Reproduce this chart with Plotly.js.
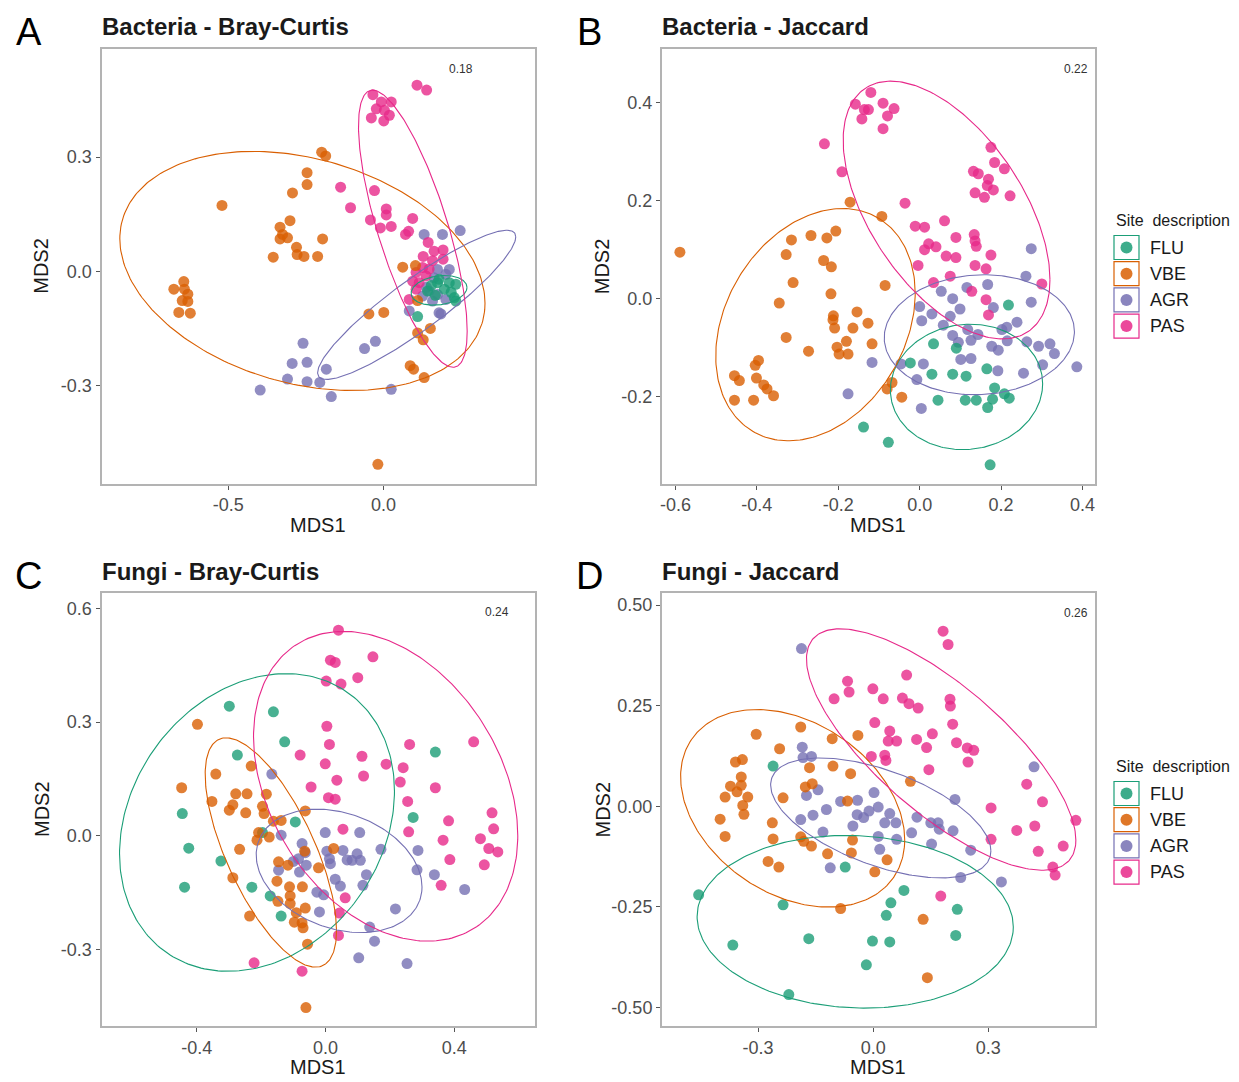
<!DOCTYPE html>
<html><head><meta charset="utf-8">
<script src="https://cdn.plot.ly/plotly-3.0.1.min.js"></script>
<style>body{margin:0;background:#fff}#chart{width:1239px;height:1082px}</style>
</head><body><div id="chart"></div>
<script>
// ---------- DATA ----------
const groups = ['FLU', 'VBE', 'AGR', 'PAS'];
const stress = ['0.18', '0.22', '0.24', '0.26'];
const panelTitles = ['Bacteria - Bray-Curtis', 'Bacteria - Jaccard', 'Fungi - Bray-Curtis', 'Fungi - Jaccard'];
const panelLetters = ['A', 'B', 'C', 'D'];

// Panel A: Bacteria - Bray-Curtis
const A_FLU_x = [0.110,0.174,0.212,0.233,0.142,0.196,0.228,0.233,0.179,0.154,0.218,0.167];
const A_FLU_y = [-0.119,-0.030,-0.030,-0.034,-0.052,-0.047,-0.069,-0.078,-0.021,-0.037,-0.055,-0.063];
const A_VBE_x = [-0.520,-0.246,-0.246,-0.293,-0.301,-0.333,-0.325,-0.333,-0.309,-0.280,-0.278,-0.256,-0.212,-0.355,-0.199,-0.186,-0.196,-0.643,-0.675,-0.630,-0.648,-0.630,-0.659,-0.622,-0.641,0.062,0.103,0.110,-0.047,0.001,0.110,0.128,0.151,0.086,0.097,0.131,-0.018];
const A_VBE_y = [0.173,0.259,0.228,0.206,0.133,0.116,0.097,0.085,0.088,0.063,0.044,0.039,0.039,0.037,0.313,0.303,0.085,-0.027,-0.047,-0.060,-0.077,-0.079,-0.108,-0.110,-0.047,0.011,0.015,-0.077,-0.112,-0.108,-0.162,-0.180,-0.150,-0.248,-0.257,-0.279,-0.507];
const A_AGR_x = [-0.259,-0.294,-0.246,-0.309,-0.246,-0.205,-0.397,-0.184,-0.168,-0.026,-0.061,0.025,0.131,0.190,0.247,0.174,0.201,0.163,0.147,0.174,0.201,0.158,0.179,0.126,0.083,0.185,0.138,0.212];
const A_AGR_y = [-0.189,-0.242,-0.239,-0.283,-0.290,-0.292,-0.312,-0.257,-0.329,-0.184,-0.203,-0.310,0.097,0.097,0.107,0.005,-0.008,-0.017,-0.052,-0.061,-0.074,-0.078,-0.109,-0.065,-0.104,-0.112,-0.042,0.005];
const A_PAS_x = [-0.034,0.108,0.139,-0.023,-0.007,0.025,0.003,0.019,-0.039,0.001,-0.138,-0.106,-0.029,0.009,0.009,-0.042,-0.010,0.025,0.094,0.071,0.081,0.144,0.128,0.163,0.192,0.192,0.158,0.147,0.126,0.105,0.137,0.094,0.115,0.105,0.083];
const A_PAS_y = [0.464,0.489,0.476,0.427,0.445,0.445,0.423,0.410,0.403,0.395,0.221,0.167,0.212,0.164,0.148,0.135,0.114,0.118,0.139,0.097,0.105,0.076,0.039,0.053,0.056,0.032,0.028,0.006,0.010,-0.003,-0.012,-0.026,-0.030,-0.047,-0.074];
// ellipse [centre x, centre y, half-width, half-height, correlation] per group (FLU, VBE, AGR, PAS)
const A_ellipses = [[0.179,-0.050,0.090,0.039,0.2],[-0.261,0.001,0.588,0.314,-0.27],[0.107,-0.088,0.319,0.196,0.91],[0.0946,0.112,0.175,0.364,-0.74]];

// Panel B: Bacteria - Jaccard
const B_FLU_x = [-0.138,0.218,0.034,0.090,-0.023,0.030,0.081,0.114,0.165,0.184,0.208,0.220,0.045,0.112,0.139,0.179,0.167,-0.077,0.173];
const B_FLU_y = [-0.262,-0.013,-0.092,-0.101,-0.131,-0.154,-0.154,-0.158,-0.143,-0.182,-0.194,-0.203,-0.207,-0.207,-0.207,-0.205,-0.222,-0.293,-0.339];
const B_VBE_x = [-0.589,-0.171,-0.093,-0.315,-0.267,-0.228,-0.206,-0.328,-0.236,-0.217,-0.311,-0.218,-0.345,-0.212,-0.213,-0.209,-0.154,-0.127,-0.164,-0.328,-0.273,-0.203,-0.180,-0.198,-0.176,-0.117,-0.396,-0.404,-0.455,-0.443,-0.401,-0.383,-0.375,-0.359,-0.455,-0.408,-0.085,-0.068,-0.080,-0.044];
const B_VBE_y = [0.095,0.197,0.168,0.120,0.129,0.124,0.138,0.090,0.078,0.065,0.033,0.010,-0.009,-0.035,-0.043,-0.060,-0.027,-0.050,-0.060,-0.079,-0.107,-0.099,-0.087,-0.113,-0.113,-0.092,-0.126,-0.136,-0.157,-0.167,-0.162,-0.176,-0.184,-0.198,-0.207,-0.207,0.027,-0.171,-0.184,-0.201];
const B_AGR_x = [-0.117,-0.176,0.274,0.261,0.053,0.116,0.167,0.274,0.081,0.000,0.099,0.030,0.075,0.181,0.005,0.058,0.239,0.118,0.202,0.214,0.081,0.143,0.095,0.126,0.177,0.193,0.215,0.263,0.292,0.320,0.331,0.101,0.126,0.009,0.192,0.255,0.302,0.386,-0.046,-0.007,0.004];
const B_AGR_y = [-0.130,-0.194,0.102,0.046,0.015,0.023,0.029,-0.007,0.000,-0.016,-0.021,-0.031,-0.036,-0.018,-0.045,-0.054,-0.048,-0.063,-0.063,-0.058,-0.075,-0.073,-0.089,-0.085,-0.097,-0.105,-0.086,-0.088,-0.097,-0.092,-0.112,-0.124,-0.122,-0.133,-0.147,-0.152,-0.135,-0.139,-0.133,-0.165,-0.224];
const B_PAS_x = [-0.120,-0.158,-0.136,-0.126,-0.142,-0.090,-0.234,-0.191,-0.090,-0.063,-0.079,0.175,0.184,0.208,0.132,0.144,0.169,0.166,0.181,0.136,0.159,0.222,-0.036,0.061,-0.011,0.012,0.089,0.134,0.136,0.139,0.022,0.012,0.040,0.065,0.089,0.175,-0.004,0.136,0.163,0.075,0.034,0.128,0.300,0.163,0.169];
const B_PAS_y = [0.421,0.397,0.386,0.386,0.367,0.399,0.316,0.259,0.347,0.388,0.373,0.309,0.278,0.265,0.260,0.255,0.244,0.231,0.222,0.216,0.207,0.210,0.195,0.159,0.148,0.146,0.125,0.131,0.118,0.107,0.112,0.100,0.106,0.087,0.084,0.089,0.068,0.068,0.061,0.046,0.033,0.015,0.030,-0.002,-0.033];
const B_ellipses = [[0.115,-0.180,0.187,0.128,0.05],[-0.256,-0.053,0.245,0.237,0.27],[0.1465,-0.0735,0.2336,0.1224,0.05],[0.066,0.181,0.254,0.263,-0.54]];

// Panel C: Fungi - Bray-Curtis
const C_FLU_x = [-0.299,-0.162,-0.127,-0.274,-0.445,-0.094,-0.196,-0.425,-0.325,-0.438,-0.229,-0.172,-0.138,0.341,0.272];
const C_FLU_y = [0.342,0.327,0.248,0.213,0.059,0.037,0.009,-0.032,-0.066,-0.135,-0.135,-0.158,-0.211,0.221,0.049];
const C_VBE_x = [-0.398,-0.231,-0.341,-0.447,-0.279,-0.244,-0.184,-0.353,-0.288,-0.299,-0.248,-0.196,-0.191,-0.063,-0.162,-0.138,-0.208,-0.213,-0.175,-0.267,-0.146,-0.117,-0.065,-0.022,-0.288,-0.151,-0.112,-0.072,-0.110,-0.148,-0.110,-0.063,-0.091,-0.236,-0.097,-0.073,-0.070,-0.056,-0.061,0.025];
const C_VBE_y = [0.294,0.184,0.163,0.127,0.111,0.111,0.110,0.091,0.082,0.068,0.061,0.078,0.059,0.066,0.039,0.041,0.009,-0.011,-0.003,-0.035,-0.068,-0.077,-0.040,-0.084,-0.110,-0.119,-0.134,-0.134,-0.158,-0.172,-0.178,-0.190,-0.202,-0.211,-0.227,-0.229,-0.242,-0.285,-0.452,-0.033];
const C_AGR_x = [-0.167,-0.138,-0.073,-0.063,-0.100,-0.084,-0.146,-0.081,-0.060,-0.027,-0.019,-0.001,0.106,0.004,0.012,0.015,0.054,0.082,0.098,0.108,0.172,0.287,0.284,0.338,0.127,0.116,0.030,0.046,-0.006,0.432,0.217,0.137,0.152,0.103,0.253,0.067];
const C_AGR_y = [0.163,0.002,-0.020,-0.044,-0.067,-0.060,-0.090,-0.095,-0.077,-0.148,-0.200,0.009,0.009,-0.040,-0.060,-0.073,-0.038,-0.064,-0.047,-0.064,-0.035,-0.038,-0.089,-0.102,-0.102,-0.130,-0.114,-0.132,-0.155,-0.141,-0.192,-0.240,-0.277,-0.321,-0.336,-0.063];
const C_PAS_x = [-0.079,-0.045,-0.222,-0.073,0.040,0.015,0.030,0.147,0.002,0.048,0.100,0.004,0.012,-0.001,0.113,0.118,0.188,0.035,0.009,0.030,0.261,0.460,0.241,0.232,0.341,0.255,0.517,0.382,0.522,0.258,0.054,0.365,0.481,0.507,0.535,0.386,0.493,0.359,0.061,0.043,0.040];
const C_PAS_y = [0.213,0.129,-0.334,-0.356,0.542,0.463,0.457,0.472,0.408,0.400,0.417,0.289,0.241,0.190,0.210,0.158,0.189,0.147,0.101,0.097,0.241,0.248,0.180,0.142,0.127,0.091,0.061,0.040,0.019,0.011,0.018,-0.011,-0.007,-0.033,-0.042,-0.062,-0.076,-0.130,-0.163,-0.203,-0.262];
const C_ellipses = [[-0.213,0.0356,0.427,0.392,0.21],[-0.170,-0.0435,0.204,0.302,-0.68],[0.042,-0.092,0.2575,0.1625,-0.26],[0.1866,0.131,0.4104,0.408,-0.32]];

// Panel D: Fungi - Jaccard
const D_FLU_x = [-0.261,-0.455,-0.235,-0.366,-0.168,-0.073,-0.002,-0.018,-0.220,0.080,0.046,0.034,0.219,0.215,0.043];
const D_FLU_y = [0.100,-0.220,-0.245,-0.345,-0.329,-0.151,-0.335,-0.394,-0.468,-0.209,-0.240,-0.271,-0.256,-0.321,-0.337];
const D_VBE_x = [-0.305,-0.189,-0.244,-0.107,-0.040,-0.359,-0.341,-0.166,-0.105,-0.059,-0.344,-0.372,-0.344,-0.355,-0.327,-0.386,-0.177,-0.159,-0.235,-0.067,-0.340,-0.337,-0.399,-0.263,-0.386,-0.261,-0.189,-0.181,-0.161,-0.119,-0.054,-0.057,-0.274,-0.246,0.004,-0.085,0.097,0.036,0.130,0.141];
const D_VBE_y = [0.179,0.197,0.143,0.168,0.176,0.110,0.116,0.096,0.100,0.081,0.073,0.050,0.052,0.036,0.023,0.023,0.048,0.056,0.021,0.013,0.002,-0.020,-0.032,-0.041,-0.075,-0.081,-0.076,-0.087,-0.099,-0.118,-0.084,-0.116,-0.137,-0.151,-0.163,-0.254,0.062,-0.133,-0.281,-0.426];
const D_AGR_x = [-0.187,-0.185,-0.183,-0.161,-0.174,-0.144,-0.085,-0.041,0.002,0.013,-0.122,-0.157,-0.189,-0.042,-0.025,-0.011,-0.053,-0.131,0.013,-0.112,0.017,0.419,0.213,0.043,0.059,0.030,0.114,0.150,0.169,0.172,0.100,0.208,0.061,0.152,0.254,0.228,0.334];
const D_AGR_y = [0.392,0.147,0.121,0.124,0.027,0.041,0.012,0.015,0.034,-0.002,-0.008,-0.022,-0.033,-0.021,-0.028,-0.012,-0.049,-0.064,-0.075,-0.153,-0.107,0.098,0.017,-0.018,-0.041,-0.041,-0.027,-0.041,-0.041,-0.057,-0.066,-0.061,-0.082,-0.094,-0.109,-0.177,-0.188];
const D_PAS_x = [-0.067,-0.063,-0.102,-0.001,0.004,-0.005,0.182,0.195,0.087,0.026,0.076,0.093,0.117,0.200,0.201,0.207,0.154,0.043,0.039,0.061,0.113,0.139,0.217,0.245,0.262,0.247,0.030,0.033,0.145,0.400,0.441,0.307,0.528,0.374,0.421,0.307,0.495,0.430,0.468,0.474,0.176];
const D_PAS_y = [0.311,0.284,0.267,0.292,0.208,0.124,0.435,0.402,0.326,0.267,0.269,0.255,0.244,0.266,0.249,0.204,0.180,0.187,0.162,0.162,0.166,0.146,0.158,0.145,0.139,0.110,0.127,0.114,0.091,0.055,0.011,-0.004,-0.035,-0.060,-0.049,-0.082,-0.099,-0.112,-0.151,-0.171,-0.223];
const D_ellipses = [[-0.047,-0.287,0.412,0.2145,-0.06],[-0.210,-0.005,0.292,0.2455,-0.32],[0.0196,-0.029,0.287,0.149,-0.55],[0.177,0.141,0.351,0.300,-0.75]];

// tick values per panel (x, y)
const A_xticks = [-0.5, 0.0], A_yticks = [-0.3, 0.0, 0.3];
const B_xticks = [-0.6, -0.4, -0.2, 0.0, 0.2, 0.4], B_yticks = [-0.2, 0.0, 0.2, 0.4];
const C_xticks = [-0.4, 0.0, 0.4], C_yticks = [-0.3, 0.0, 0.3, 0.6];
const D_xticks = [-0.3, 0.0, 0.3], D_yticks = [-0.50, -0.25, 0.00, 0.25, 0.50];

// ---------- STYLE / BUILD ----------
const colors = {FLU:'#1B9E77', VBE:'#D95F02', AGR:'#7570B3', PAS:'#E7298A'};
const FONT = '"Liberation Sans", Arial, Helvetica, sans-serif';
const W = 1239, H = 1082;
const X = px => px / W, Y = py => 1 - py / H;

const panels = [
  {pts:{FLU:[A_FLU_x,A_FLU_y],VBE:[A_VBE_x,A_VBE_y],AGR:[A_AGR_x,A_AGR_y],PAS:[A_PAS_x,A_PAS_y]}, ell:A_ellipses, xt:A_xticks, yt:A_yticks},
  {pts:{FLU:[B_FLU_x,B_FLU_y],VBE:[B_VBE_x,B_VBE_y],AGR:[B_AGR_x,B_AGR_y],PAS:[B_PAS_x,B_PAS_y]}, ell:B_ellipses, xt:B_xticks, yt:B_yticks},
  {pts:{FLU:[C_FLU_x,C_FLU_y],VBE:[C_VBE_x,C_VBE_y],AGR:[C_AGR_x,C_AGR_y],PAS:[C_PAS_x,C_PAS_y]}, ell:C_ellipses, xt:C_xticks, yt:C_yticks},
  {pts:{FLU:[D_FLU_x,D_FLU_y],VBE:[D_VBE_x,D_VBE_y],AGR:[D_AGR_x,D_AGR_y],PAS:[D_PAS_x,D_PAS_y]}, ell:D_ellipses, xt:D_xticks, yt:D_yticks}
];

// panel geometry (pixels) and axis ranges
const geo = [
  {l:101.5, r:535, t:49, b:483.5, xr:[-0.908,0.488], yr:[-0.5574,0.584], xdec:1, ydec:1, sx:461, sy:69},
  {l:662, r:1094.5, t:49, b:483.5, xr:[-0.633,0.4294], yr:[-0.3771,0.5096], xdec:1, ydec:1, sx:1076, sy:69},
  {l:101.5, r:535, t:593, b:1026, xr:[-0.696,0.6505], yr:[-0.5005,0.640], xdec:1, ydec:1, sx:497, sy:612},
  {l:662, r:1094.5, t:593, b:1026, xr:[-0.5505,0.5766], yr:[-0.546,0.530], xdec:1, ydec:2, sx:1076, sy:613}
];

const traces = [];
const layout = {
  width: W, height: H, margin:{l:0,r:0,t:0,b:0},
  paper_bgcolor:'#fff', plot_bgcolor:'#fff', showlegend:false,
  font:{family:FONT}, annotations:[], shapes:[]
};

function ellipsePath(p) {
  const [cx, cy, a, b, rho] = p, d = Math.acos(rho), xs = [], ys = [];
  for (let i = 0; i <= 240; i++) {
    const t = 2 * Math.PI * i / 240;
    xs.push(cx + a * Math.cos(t));
    ys.push(cy + b * Math.cos(t - d));
  }
  return [xs, ys];
}

panels.forEach((pn, k) => {
  const n = k === 0 ? '' : String(k + 1);
  const xa = 'x' + n, ya = 'y' + n;
  const g = geo[k];
  const axBase = {showline:true, mirror:true, linecolor:'#b3b3b3', linewidth:2, ticks:'outside', ticklen:4,
    tickcolor:'#555', tickwidth:1, showgrid:false, zeroline:false,
    tickfont:{size:18, color:'#4d4d4d', family:FONT}, fixedrange:true, tickmode:'array'};
  layout['xaxis' + n] = Object.assign({}, axBase, {domain:[X(g.l), X(g.r)], range:g.xr, anchor:ya,
    tickvals:pn.xt, ticktext:pn.xt.map(v => v.toFixed(g.xdec))});
  layout['yaxis' + n] = Object.assign({}, axBase, {domain:[Y(g.b), Y(g.t)], range:g.yr, anchor:xa,
    tickvals:pn.yt, ticktext:pn.yt.map(v => v.toFixed(g.ydec))});

  ['AGR','PAS','FLU','VBE'].forEach(grp => {
    const [xs, ys] = pn.pts[grp];
    traces.push({type:'scatter', mode:'markers', x:xs, y:ys, xaxis:xa, yaxis:ya, name:grp,
      marker:{color:colors[grp], size:11, opacity:0.8, line:{width:0}}, hoverinfo:'skip'});
  });
  groups.forEach((grp, gi) => {
    const [ex, ey] = ellipsePath(pn.ell[gi]);
    traces.push({type:'scatter', mode:'lines', x:ex, y:ey, xaxis:xa, yaxis:ya,
      line:{color:colors[grp], width:1.1}, hoverinfo:'skip'});
  });

  const cxp = (g.l + g.r) / 2, cyp = (g.t + g.b) / 2;
  layout.annotations.push({text:'<b>' + panelTitles[k] + '</b>', xref:'paper', yref:'paper', x:X(g.l - 2), y:Y(g.t - 22),
    xanchor:'left', yanchor:'middle', showarrow:false, font:{size:24, color:'#1a1a1a', family:FONT}});
  layout.annotations.push({text:panelLetters[k], xref:'paper', yref:'paper', x:X(g.l - 73), y:Y(g.t - 17),
    xanchor:'center', yanchor:'middle', showarrow:false, font:{size:38, color:'#000', family:FONT}});
  layout.annotations.push({text:'MDS1', xref:'paper', yref:'paper', x:X(cxp), y:Y(g.b + 41),
    xanchor:'center', yanchor:'middle', showarrow:false, font:{size:20, color:'#1a1a1a', family:FONT}});
  layout.annotations.push({text:'MDS2', xref:'paper', yref:'paper', x:X(g.l - 60), y:Y(cyp),
    xanchor:'center', yanchor:'middle', textangle:-90, showarrow:false, font:{size:20, color:'#1a1a1a', family:FONT}});
  layout.annotations.push({text:stress[k], xref:'paper', yref:'paper', x:X(g.sx), y:Y(g.sy),
    xanchor:'center', yanchor:'middle', showarrow:false, font:{size:12, color:'#333', family:FONT}});
});

// manual legends (right of B and D)
[0, 546].forEach(off => {
  layout.annotations.push({text:'Site  description', xref:'paper', yref:'paper', x:X(1114), y:Y(220 + off),
    xanchor:'left', yanchor:'middle', showarrow:false, font:{size:16, color:'#1a1a1a', family:FONT}});
  groups.forEach((grp, i) => {
    const cy = 247.5 + off + i * 26.2;
    layout.shapes.push({type:'rect', xref:'paper', yref:'paper', x0:X(1114), x1:X(1139), y0:Y(cy + 12), y1:Y(cy - 12),
      line:{color:colors[grp], width:1.2}, fillcolor:'rgba(0,0,0,0)'});
    layout.shapes.push({type:'circle', xref:'paper', yref:'paper', x0:X(1120.5), x1:X(1132.5), y0:Y(cy + 6), y1:Y(cy - 6),
      line:{width:0}, fillcolor:colors[grp], opacity:0.85});
    layout.annotations.push({text:grp, xref:'paper', yref:'paper', x:X(1148), y:Y(cy),
      xanchor:'left', yanchor:'middle', showarrow:false, font:{size:18, color:'#1a1a1a', family:FONT}});
  });
});

Plotly.newPlot('chart', traces, layout, {displayModeBar:false, staticPlot:true});
</script>
</body></html>
